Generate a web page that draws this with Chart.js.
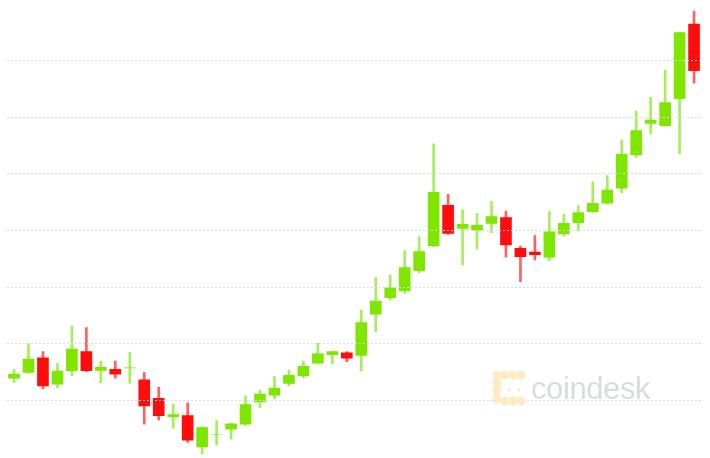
<!DOCTYPE html>
<html lang="en">
<head>
    <meta charset="UTF-8">
    <title>BTC Candles</title>
    <style>
        * {
            margin: 0;
            padding: 0;
            box-sizing: border-box;
        }
        body {
            background-color: #fff;
            font-family: "Liberation Sans", Arial, sans-serif;
        }
        .container {
            position: relative;
            width: 710px;
            height: 458px;
        }
        .watermark {
            position: absolute;
            left: 492px;
            top: 370px;
            display: flex;
            align-items: center;
            pointer-events: none;
        }
        .watermark span {
            font-size: 31px;
            color: #d8dbe1;
            letter-spacing: -0.4px;
            margin-left: 3px;
            line-height: 38px;
        }
    </style>
</head>
<body>

<div class="container">
    <canvas id="candleChart"></canvas>
    <div class="watermark">
        <svg width="36" height="38" viewBox="0 0 36 38">
            <g fill="#fdebc4">
                <circle cx="5" cy="5" r="4.5"/>
                <circle cx="13" cy="5" r="4.5"/>
                <circle cx="21" cy="5" r="4.5"/>
                <circle cx="29" cy="5" r="4.5"/>
                <circle cx="5" cy="13" r="4.5"/>
                <circle cx="5" cy="21" r="4.5"/>
                <circle cx="5" cy="29" r="4.5"/>
                <circle cx="13" cy="31" r="4.5"/>
                <circle cx="21" cy="31" r="4.5"/>
                <circle cx="29" cy="31" r="4.5"/>
                <circle cx="17" cy="20" r="1.8"/>
                <circle cx="27" cy="20" r="1.8"/>
            </g>
        </svg>
        <span>coindesk</span>
    </div>
</div>

<script src="https://cdn.jsdelivr.net/npm/chart.js@4.4.0/dist/chart.umd.min.js"></script>

<script>
// candle data, one entry per period
const periods = Array.from({ length: 48 }, (_, i) => 'P' + (i + 1));

const openPrices = [
    10198, 10250, 10379, 10145, 10265, 10432, 10268, 10277, 10290, 10183,
    10021, 9856, 9868, 9592, 9700, 9748, 9792, 9989, 10048, 10153,
    10218, 10330, 10406, 10423, 10400, 10762, 10908, 10967, 11146, 11364,
    11723, 11520, 11503, 11564, 11614, 11344, 11311, 11265, 11470, 11570,
    11667, 11741, 11873, 12167, 12446, 12425, 12663, 13322
];
const closePrices = [
    10235, 10368, 10130, 10262, 10456, 10265, 10295, 10233, 10290, 9953,
    9868, 9877, 9651, 9762, 9700, 9795, 9965, 10059, 10112, 10224,
    10303, 10414, 10432, 10374, 10688, 10879, 10996, 11173, 11314, 11838,
    11476, 11555, 11547, 11623, 11373, 11270, 11287, 11490, 11564, 11658,
    11741, 11858, 12173, 12381, 12475, 12628, 13245, 12910
];
const highPrices = [
    10277, 10506, 10432, 10330, 10661, 10644, 10350, 10350, 10427, 10250,
    10118, 9968, 9982, 9771, 9824, 9801, 10044, 10094, 10212, 10271,
    10350, 10506, 10432, 10432, 10800, 11085, 11108, 11323, 11446, 12264,
    11820, 11682, 11652, 11758, 11673, 11364, 11455, 11667, 11646, 11720,
    11931, 11984, 12299, 12557, 12675, 12916, 13245, 13436
];
const lowPrices = [
    10159, 10242, 10103, 10115, 10220, 10256, 10156, 10198, 10153, 9792,
    9830, 9757, 9633, 9530, 9609, 9660, 9780, 9938, 10015, 10130,
    10203, 10324, 10324, 10344, 10262, 10606, 10888, 10947, 11129, 11358,
    11467, 11197, 11338, 11481, 11265, 11049, 11241, 11235, 11452, 11496,
    11661, 11734, 11834, 12146, 12352, 12420, 12175, 12799
];

// grid levels shown on the chart
const gridLevels = [10000, 10500, 11000, 11500, 12000, 12500, 13000];

const upColor = '#7fe600';
const downColor = '#ff0d0d';
const upWick = '#a6ee5c';
const downWick = '#ff6060';

const bodies = openPrices.map((o, i) => [o, closePrices[i]]);
const wicks = lowPrices.map((l, i) => [l, highPrices[i]]);
const isUp = openPrices.map((o, i) => closePrices[i] >= o);

new Chart(document.getElementById('candleChart'), {
    type: 'bar',
    data: {
        labels: periods,
        datasets: [
            {
                label: 'body',
                data: bodies,
                backgroundColor: isUp.map(u => u ? upColor : downColor),
                barThickness: 11,
                borderWidth: 0,
                borderSkipped: false,
                grouped: false,
                order: 0
            },
            {
                label: 'wick',
                data: wicks,
                backgroundColor: isUp.map(u => u ? upWick : downWick),
                barThickness: 2,
                borderWidth: 0,
                borderSkipped: false,
                grouped: false,
                order: 1
            }
        ]
    },
    options: {
        responsive: true,
        maintainAspectRatio: false,
        animation: false,
        events: [],
        layout: {
            padding: { left: 6.8, right: 8.7, top: 0, bottom: 0 }
        },
        plugins: {
            legend: { display: false },
            tooltip: { enabled: false }
        },
        scales: {
            x: {
                display: false,
                offset: true
            },
            y: {
                min: 9494.7,
                max: 13533.3,
                border: { display: false, dash: [2, 2] },
                ticks: { display: false, stepSize: 500, includeBounds: false },
                afterBuildTicks: scale => {
                    scale.ticks = gridLevels.map(v => ({ value: v }));
                },
                grid: {
                    color: '#d6daef',
                    lineWidth: 1,
                    drawTicks: false,
                    z: 1
                }
            }
        }
    }
});
</script>

</body>
</html>
